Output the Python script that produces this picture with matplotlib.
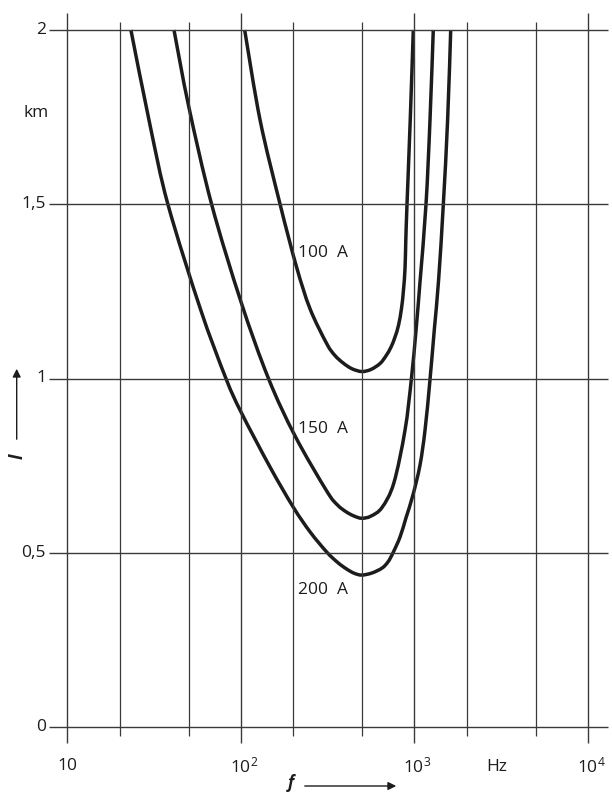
import numpy as np
import matplotlib
matplotlib.use('Agg')
import matplotlib.pyplot as plt
from matplotlib.path import Path
from matplotlib.patches import PathPatch

plt.rcParams['font.family'] = ['Open Sans', 'DejaVu Sans']

# curves: line length l (km) against frequency f (Hz) for three currents
f_100 = [105, 129, 168, 209, 250, 312, 348, 389, 436, 497, 561, 633, 685, 732, 772, 809, 842, 864, 882, 891, 905, 945, 984]
l_100 = [2.0, 1.74, 1.50, 1.32, 1.20, 1.10, 1.066, 1.044, 1.028, 1.02, 1.026, 1.043, 1.065, 1.090, 1.119, 1.153, 1.202, 1.254, 1.317, 1.397, 1.498, 1.742, 2.0]

f_150 = [41.1, 50, 67.7, 100, 144, 205, 312, 360, 405, 450, 497, 560, 650, 760, 882, 960, 1021, 1077, 1165, 1228, 1283]
l_150 = [2.0, 1.78, 1.50, 1.22, 1.0, 0.835, 0.677, 0.637, 0.617, 0.605, 0.599, 0.605, 0.63, 0.70, 0.852, 1.0, 1.14, 1.28, 1.50, 1.74, 2.0]

f_200 = [23.2, 29.9, 37.9, 58.3, 81.9, 100, 147, 200, 250, 312, 361, 407, 450, 497, 569, 650, 704, 752, 825, 893, 980, 1076, 1150, 1228, 1300, 1377, 1466, 1552, 1617]
l_200 = [2.0, 1.727, 1.50, 1.20, 1.0, 0.904, 0.746, 0.631, 0.56, 0.502, 0.472, 0.453, 0.441, 0.436, 0.442, 0.456, 0.474, 0.50, 0.545, 0.60, 0.666, 0.752, 0.852, 0.996, 1.139, 1.283, 1.50, 1.742, 2.0]

curve_labels = ['100  A', '150  A', '200  A']
label_l = [1.36, 0.856, 0.394]

grid_major = [10, 100, 1000, 10000]
grid_minor = [20, 50, 200, 500, 2000, 5000]
grid_l = [0, 0.5, 1, 1.5, 2]
ytick_text = ['0', '0,5', '1', '1,5', '2']
xtick_text = [r'$\mathregular{10}$', r'$\mathregular{10^2}$', r'$\mathregular{10^3}$', r'$\mathregular{10^4}$']


# page pixel -> data helpers (612x792 page)
def fx(px):
    return 10 ** (1 + (px - 67.5) / 173.5)


def ly(py):
    return (727 - py) / 348.5


def smooth_path(f, l):
    # Catmull-Rom through the read points, done in log f so it bends like the drawn curve
    pts = np.column_stack([np.log10(f), l])
    verts = [pts[0]]
    codes = [Path.MOVETO]
    n = len(pts)
    for i in range(n - 1):
        p0 = pts[i - 1] if i > 0 else pts[i]
        p3 = pts[i + 2] if i + 2 < n else pts[i + 1]
        c1 = pts[i] + (pts[i + 1] - p0) / 6
        c2 = pts[i + 1] - (p3 - pts[i]) / 6
        verts += [c1, c2, pts[i + 1]]
        codes += [Path.CURVE4] * 3
    verts = np.array(verts)
    verts[:, 0] = 10 ** verts[:, 0]
    return Path(verts, codes)


fig = plt.figure(figsize=(6.12, 7.92), dpi=100)
ax = fig.add_axes([0, 0, 1, 1])
ax.set_xscale('log')
ax.set_xlim(fx(0), fx(612))
ax.set_ylim(ly(792), ly(0))
ax.axis('off')

gc = '#3a3a3a'
ink = '#1c1c1c'
ax.vlines(grid_major, ly(743), ly(13), color=gc, lw=1.0)
ax.vlines(grid_minor, ly(736), ly(22), color=gc, lw=0.9)
ax.hlines(grid_l, fx(49), fx(608), color=gc, lw=1.0)

for f, l in [(f_100, l_100), (f_150, l_150), (f_200, l_200)]:
    ax.add_patch(PathPatch(smooth_path(f, l), fill=False, edgecolor=ink, lw=2.5,
                           capstyle='butt', joinstyle='round'))

for txt, yl in zip(curve_labels, label_l):
    ax.text(fx(298), yl, txt, fontsize=12.5, ha='left', va='center', color=ink)

for yl, txt in zip(grid_l, ytick_text):
    ax.text(fx(46), yl, txt, fontsize=12.5, ha='right', va='center', color=ink)
ax.text(fx(49), ly(113), 'km', fontsize=12.5, ha='right', va='center', color=ink)

for f, txt in zip(grid_major, xtick_text):
    ax.text(f * (1.0 if f == 10 else 1.04), ly(766), txt, fontsize=12.5, ha='center', va='center', color=ink)
ax.text(fx(497), ly(767), 'Hz', fontsize=12.5, ha='center', va='center', color=ink)

# axis names with arrows
ax.text(fx(291), ly(783), 'f', fontsize=12, fontstyle='italic', fontweight='bold',
        ha='center', va='center', color=ink)
ax.annotate('', xy=(fx(399), ly(786)), xytext=(fx(302), ly(786)),
            arrowprops=dict(arrowstyle='-|>', lw=1.0, color=ink, mutation_scale=12))
ax.text(fx(18), ly(456), 'l', fontsize=13, fontstyle='italic', fontweight='bold', rotation=90,
        ha='center', va='center', color=ink)
ax.annotate('', xy=(fx(16.7), ly(366)), xytext=(fx(16.7), ly(442)),
            arrowprops=dict(arrowstyle='-|>', lw=1.0, color=ink, mutation_scale=12))

fig.savefig('out.png', dpi=100, facecolor='white')
